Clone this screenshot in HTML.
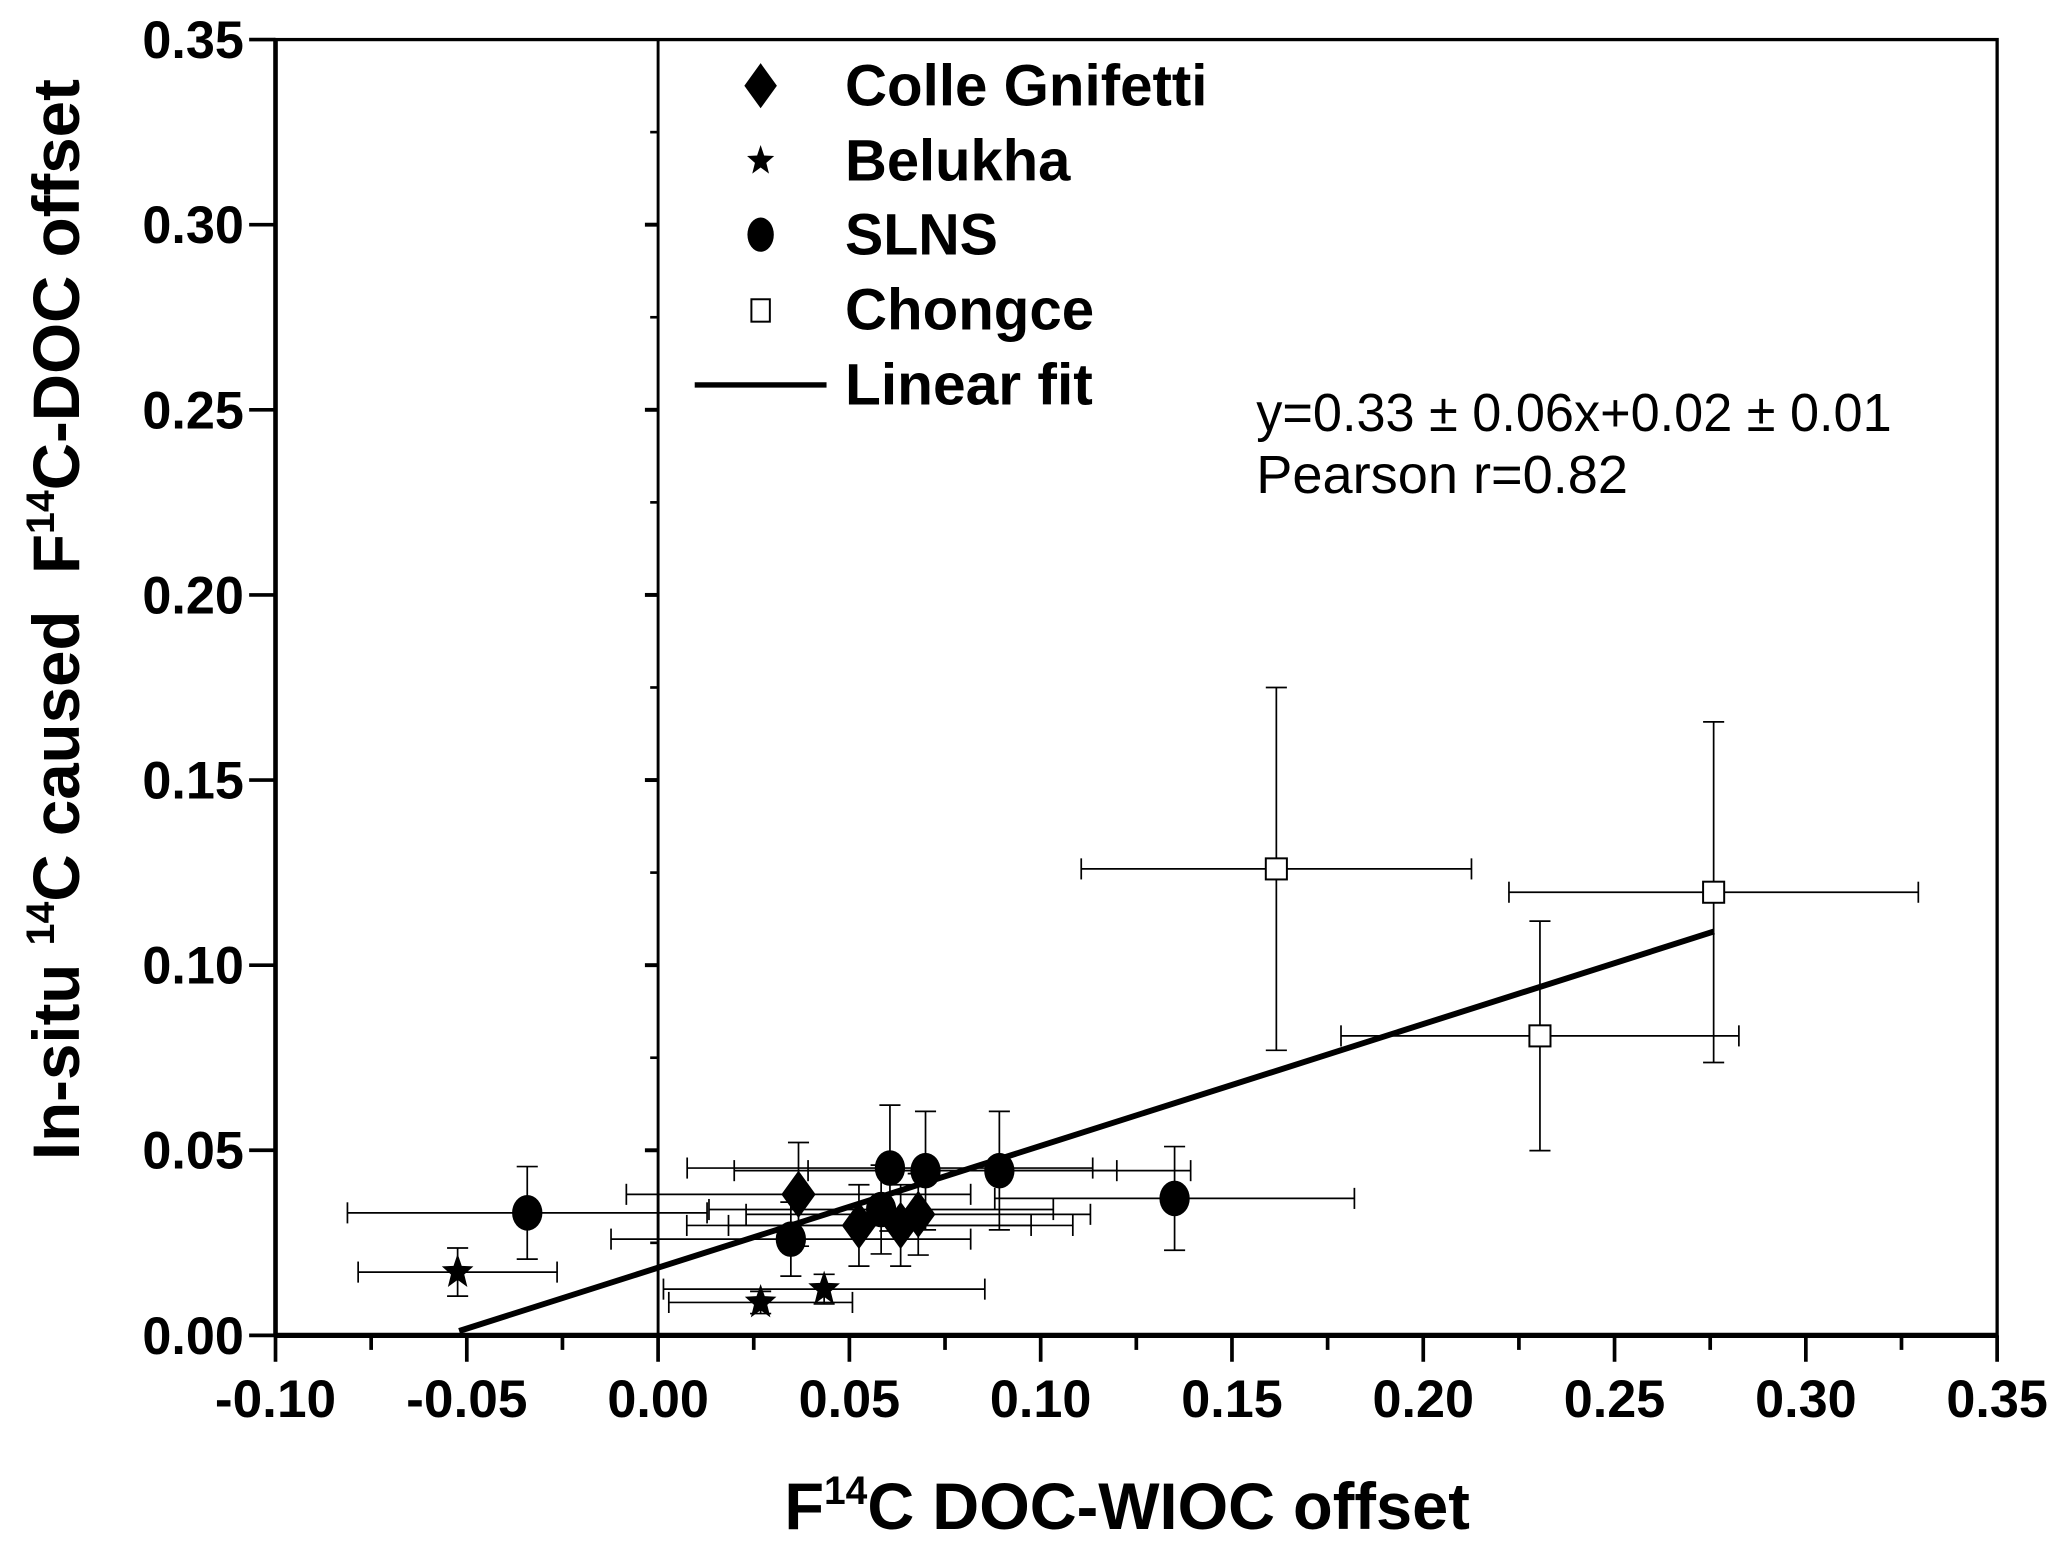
<!DOCTYPE html>
<html><head><meta charset="utf-8"><style>html,body{margin:0;padding:0;background:#fff;}svg{display:block;}text{font-family:"Liberation Sans",Arial,sans-serif;fill:#000;}</style></head>
<body>
<svg id="chart" width="2067" height="1547" viewBox="0 0 1568 1173.5" xmlns="http://www.w3.org/2000/svg">
<g id="grid"></g>
</svg>
<script>
const xTicks = [-0.10,-0.05,0.00,0.05,0.10,0.15,0.20,0.25,0.30,0.35];
const xTickLabels = ["-0.10","-0.05","0.00","0.05","0.10","0.15","0.20","0.25","0.30","0.35"];
const yTicks = [0.00,0.05,0.10,0.15,0.20,0.25,0.30,0.35];
const yTickLabels = ["0.00","0.05","0.10","0.15","0.20","0.25","0.30","0.35"];
const cgX = [0.0367,0.0525,0.0634,0.068];
const cgY = [0.0381,0.0297,0.0297,0.0327];
const cgXerr = [0.045,0.045,0.045,0.045];
const cgYerr = [0.014,0.011,0.011,0.011];
const beX = [-0.0524,0.0268,0.0434];
const beY = [0.0171,0.0089,0.0125];
const beXerr = [0.026,0.024,0.042];
const beYerr = [0.0065,0.003,0.004];
const slX = [-0.0342,0.0347,0.0606,0.0699,0.0892,0.135,0.0583];
const slY = [0.0331,0.026,0.0452,0.0445,0.0445,0.037,0.034];
const slXerr = [0.047,0.047,0.053,0.05,0.05,0.047,0.045];
const slYerr = [0.0125,0.01,0.017,0.016,0.016,0.014,0.012];
const chX = [0.1616,0.2759,0.2305];
const chY = [0.126,0.1197,0.0809];
const chXerr = [0.051,0.0535,0.052];
const chYerr = [0.049,0.046,0.031];
const fitSlope = 0.329, fitIntercept = 0.0183, fitXmin = -0.052, fitXmax = 0.276;

const NS="http://www.w3.org/2000/svg";
const svg=document.getElementById('chart');
const X0=209, X1=1515, Y0=1013, Y1=30;
const sx=v=>X0+(v+0.10)/0.45*(X1-X0);
const sy=v=>Y0-v/0.35*(Y0-Y1);
function mk(tag,a,parent){const e=document.createElementNS(NS,tag);for(const k in a)e.setAttribute(k,a[k]);(parent||svg).appendChild(e);return e;}
function ln(x1,y1,x2,y2,w){return mk('line',{x1,y1,x2,y2,stroke:'#000','stroke-width':w});}

let e=mk('rect',{x:X0,y:Y1,width:X1-X0,height:Y0-Y1,fill:'none',stroke:'#000','stroke-width':2.5});


e=ln(X0,Y0,X1,Y0,4);


e=ln(X0,Y0,X0,Y1,3.5);


e=ln(sx(0),Y0,sx(0),Y1,2.2);


for(let i=0;i<xTicks.length;i++){
  e=ln(sx(xTicks[i]),Y0,sx(xTicks[i]),Y0+20,2.8);
  
  
  if(i<xTicks.length-1){e=ln(sx(xTicks[i]+0.025),Y0,sx(xTicks[i]+0.025),Y0+11,2.8);
  
  }
  const w=xTickLabels[i].length>4?92:77;
  e=mk('text',{x:sx(xTicks[i]),y:Y0+62,'text-anchor':'middle','font-size':40,'font-weight':'bold',textLength:w,lengthAdjust:'spacingAndGlyphs'});
  e.textContent=xTickLabels[i];
  
  
}
for(let i=0;i<yTicks.length;i++){
  e=ln(X0-20,sy(yTicks[i]),X0,sy(yTicks[i]),2.8);
  
  
  e=mk('text',{x:X0-24,y:sy(yTicks[i])+14,'text-anchor':'end','font-size':40,'font-weight':'bold',textLength:77,lengthAdjust:'spacingAndGlyphs'});
  e.textContent=yTickLabels[i];
  
  
}
for(let v=0.025;v<0.35;v+=0.025){
  const major=Math.abs((v/0.05)-Math.round(v/0.05))<1e-6;
  e=ln(sx(0)-(major?10:6),sy(v),sx(0),sy(v),major?3:2);
  
  
}
function errbar(x,y,xe,ye){
  const g=mk('g',{stroke:'#000','stroke-width':1.3,fill:'none'});
  
  
  mk('line',{x1:sx(x-xe),y1:sy(y),x2:sx(x+xe),y2:sy(y)},g);
  mk('line',{x1:sx(x-xe),y1:sy(y)-8,x2:sx(x-xe),y2:sy(y)+8},g);
  mk('line',{x1:sx(x+xe),y1:sy(y)-8,x2:sx(x+xe),y2:sy(y)+8},g);
  mk('line',{x1:sx(x),y1:sy(y-ye),x2:sx(x),y2:sy(y+ye)},g);
  mk('line',{x1:sx(x)-8,y1:sy(y-ye),x2:sx(x)+8,y2:sy(y-ye)},g);
  mk('line',{x1:sx(x)-8,y1:sy(y+ye),x2:sx(x)+8,y2:sy(y+ye)},g);
}
for(let i=0;i<cgX.length;i++)errbar(cgX[i],cgY[i],cgXerr[i],cgYerr[i]);
for(let i=0;i<beX.length;i++)errbar(beX[i],beY[i],beXerr[i],beYerr[i]);
for(let i=0;i<slX.length;i++)errbar(slX[i],slY[i],slXerr[i],slYerr[i]);
for(let i=0;i<chX.length;i++)errbar(chX[i],chY[i],chXerr[i],chYerr[i]);
e=ln(sx(fitXmin),sy(fitSlope*fitXmin+fitIntercept),sx(fitXmax),sy(fitSlope*fitXmax+fitIntercept),4.5);


function diamond(cx,cy,s){return mk('polygon',{points:`${cx},${cy-18*s} ${cx+13*s},${cy} ${cx},${cy+18*s} ${cx-13*s},${cy}`,fill:'#000'});}
function star(cx,cy,r){let p=[];for(let k=0;k<10;k++){const a=-Math.PI/2+k*Math.PI/5;const rr=k%2?r*0.42:r;p.push((cx+rr*Math.cos(a)*0.9)+','+(cy+rr*Math.sin(a)));}return mk('polygon',{points:p.join(' '),fill:'#000'});}
for(let i=0;i<slX.length;i++){e=mk('ellipse',{cx:sx(slX[i]),cy:sy(slY[i]),rx:11.5,ry:13.5,fill:'#000'});

}
for(let i=0;i<cgX.length;i++){e=diamond(sx(cgX[i]),sy(cgY[i]),1);

}
for(let i=0;i<beX.length;i++){e=star(sx(beX[i]),sy(beY[i]),14);

}
for(let i=0;i<chX.length;i++){e=mk('rect',{x:sx(chX[i])-8,y:sy(chY[i])-8,width:16,height:16,fill:'#fff',stroke:'#000','stroke-width':1.5});

}
const legNames=["Colle Gnifetti","Belukha","SLNS","Chongce","Linear fit"];
const legW=[275,171,116,189,188];
const legY=[65,122,178,235,292];
for(let i=0;i<5;i++){
  const my=legY[i];
  if(i==0)e=diamond(577,my,0.95);
  else if(i==1)e=star(577,my,12);
  else if(i==2)e=mk('ellipse',{cx:577,cy:my,rx:10,ry:13,fill:'#000'});
  else if(i==3)e=mk('rect',{x:570,y:my-8,width:14,height:17,fill:'#fff',stroke:'#000','stroke-width':1.5});
  else e=ln(527,my,627,my,4);
  
  
  e=mk('text',{x:641,y:my+15,'font-size':44,'font-weight':'bold',textLength:legW[i],lengthAdjust:'spacingAndGlyphs'});
  e.textContent=legNames[i];
  
  
}
</script>
<svg style="position:absolute;left:0;top:0" width="2067" height="1547" viewBox="0 0 1568 1173.5" xmlns="http://www.w3.org/2000/svg">
<text x="953" y="327" font-size="41" textLength="482" lengthAdjust="spacingAndGlyphs">y=0.33 ± 0.06x+0.02 ± 0.01</text>
<text x="953" y="374" font-size="41" textLength="282" lengthAdjust="spacingAndGlyphs">Pearson r=0.82</text>
<text x="595" y="1160" font-size="50" font-weight="bold" textLength="520" lengthAdjust="spacingAndGlyphs">F<tspan font-size="30" dy="-19">14</tspan><tspan dy="19">C DOC-WIOC offset</tspan></text>
<text transform="translate(60,880) rotate(-90)" x="0" y="0" font-size="50" font-weight="bold" textLength="820" lengthAdjust="spacingAndGlyphs" xml:space="preserve">In-situ <tspan font-size="30" dy="-19">14</tspan><tspan dy="19">C caused  F</tspan><tspan font-size="30" dy="-19">14</tspan><tspan dy="19">C-DOC offset</tspan></text>
</svg>
</body></html>
